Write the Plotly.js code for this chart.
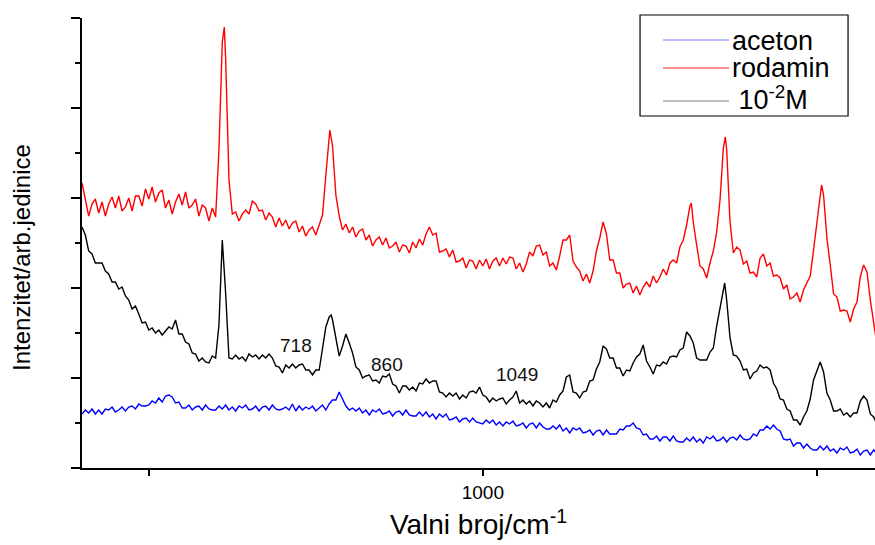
<!DOCTYPE html>
<html>
<head>
<meta charset="utf-8">
<script src="https://cdn.plot.ly/plotly-3.0.1.min.js"></script>
<style>
html,body{margin:0;padding:0;background:#fff;}
#chart{width:875px;height:545px;}
</style>
</head>
<body>
<div id="chart"></div>
<script>
// Wavenumber sampling of the spectra (cm^-1): 400, 405, ... 1590
const wnStart = 400;
const wnStep = 5;
const wnCount = 239;

// Series labels
const seriesNames = ["aceton", "rodamin", " 10<sup>-2</sup>M"];
const seriesColors = ["#0000ff", "#ff0000", "#000000"];
const legendLineColors = ["#7878ff", "#ff2020", "#808080"];

// aceton (blue) intensity, arb. units, one value per sample
const acetonI = [
54,58,55,59,54,58,54,59,58,61,56,58,61,57,61,62,59,64,62,62,
63,67,65,70,66,72,73,71,65,66,60,60,63,58,61,62,58,63,59,58,
58,62,59,63,58,61,57,62,60,63,58,59,62,57,61,62,58,63,59,58,
59,61,58,64,57,62,58,61,59,62,57,60,63,58,64,68,68,76,69,62,
58,60,57,60,55,58,53,58,56,59,54,55,57,52,56,57,53,58,53,52,
52,56,52,56,51,54,49,54,51,54,48,49,51,46,49,50,46,50,46,45,
44,48,45,48,43,46,42,46,44,47,42,43,45,40,44,45,40,45,41,39,
39,42,39,43,37,40,35,40,38,40,35,36,38,33,37,38,33,38,34,34,
34,39,38,42,42,45,40,39,33,34,29,29,32,27,31,31,27,32,27,26,
26,30,27,31,26,29,25,31,29,32,27,28,31,26,30,31,28,33,29,28,
29,34,32,38,38,42,39,43,39,37,29,28,29,22,25,25,20,24,20,18,
18,22,18,22,17,19,15,20,18,21,15,16,19,13,17,18,13,18,14
];

// rodamin (red) intensity, arb. units, one value per sample
const rodaminI = [
285,269,252,264,269,255,266,252,264,271,260,272,257,261,270,257,272,272,262,279,
269,281,266,275,278,260,268,254,266,274,263,276,260,263,269,252,263,260,247,260,
251,318,426,410,288,254,256,247,254,258,254,267,264,257,258,248,255,251,241,250,
242,248,239,245,247,236,242,232,238,241,233,242,253,293,333,322,273,252,238,244,
235,241,231,237,239,228,233,222,228,231,223,230,220,222,226,216,223,222,215,226,
220,229,223,234,241,233,235,216,217,219,211,218,206,207,210,200,208,207,199,208,
202,209,199,207,210,202,210,204,211,210,199,205,196,204,216,212,222,223,213,216,
202,205,198,212,228,228,233,207,201,197,187,194,185,197,217,230,246,234,208,208,
195,195,180,184,185,175,182,173,181,186,181,192,185,191,199,193,205,208,205,221,
228,243,262,246,223,202,199,190,205,217,236,268,320,318,246,215,221,218,204,207,
195,196,191,210,214,202,205,192,193,190,179,183,169,171,175,166,178,185,192,218,
246,278,273,230,203,174,171,157,158,157,146,159,166,191,203,196,168,143,123
];
// extra samples at the tops of the sharp rodamin bands
const rodaminPeakWn = [613, 771, 1312, 1363, 1507];
const rodaminPeakI  = [441, 338, 265, 331, 283];

// 10^-2 M (black) intensity, arb. units, one value per sample
const solutionI = [
241,233,217,214,205,205,205,197,194,186,186,179,181,172,168,159,162,154,145,146,
138,140,135,138,133,137,141,139,148,134,134,126,124,115,114,107,110,106,105,112,
110,143,228,175,110,109,113,109,111,107,114,111,113,109,113,110,114,110,102,101,
95,103,100,104,100,103,104,98,98,93,98,98,120,141,151,148,128,112,122,134,
125,115,101,98,90,92,93,87,88,85,92,91,94,84,82,75,82,82,78,81,
77,85,84,89,85,87,87,76,75,71,75,72,75,69,73,70,76,77,75,81,
73,71,66,70,67,69,70,64,68,71,77,65,68,64,67,62,67,65,61,65,
60,68,66,73,77,91,93,76,75,70,76,77,87,88,99,106,122,119,110,110,
100,100,92,98,97,105,111,114,123,107,101,94,103,102,106,104,111,112,111,118,
120,136,132,125,110,108,108,108,116,120,142,161,178,168,130,113,112,107,98,99,
89,95,97,103,100,101,98,85,79,69,68,59,57,48,48,43,51,57,69,88,
98,106,96,75,68,57,57,59,53,55,51,55,55,67,72,68,54,51,44
];
const solutionPeakWn = [773, 1362];
const solutionPeakI  = [153, 185];

// band labels
const bandLabels = ["718", "860", "1049"];
const bandLabelWn = [720, 856, 1051];
const bandLabelI  = [123, 104, 94];

// axis ticks
const xLabelVals = [1000];
const xUnlabelledVals = [500, 1500];
const yMajorTicks = [0, 90, 180, 270, 360, 450];
const yMinorTicks = [45, 135, 225, 315, 405];

// build the sampling grid
const wn = [];
for (let k = 0; k < wnCount; k++) wn.push(wnStart + wnStep * k);

function withExtras(xs, ys, ex, ey) {
  const pts = xs.map((x, i) => [x, ys[i]]);
  ex.forEach((x, i) => pts.push([x, ey[i]]));
  pts.sort((a, b) => a[0] - b[0]);
  return {x: pts.map(p => p[0]), y: pts.map(p => p[1])};
}

const red = withExtras(wn, rodaminI, rodaminPeakWn, rodaminPeakI);
const blk = withExtras(wn, solutionI, solutionPeakWn, solutionPeakI);

const FONT = "Liberation Sans, Arial, sans-serif";

const traces = [
  {x: wn, y: acetonI, name: seriesNames[0], type: "scatter", mode: "lines",
   line: {color: seriesColors[0], width: 1.4}},
  {x: red.x, y: red.y, name: seriesNames[1], type: "scatter", mode: "lines",
   line: {color: seriesColors[1], width: 1.4}},
  {x: blk.x, y: blk.y, name: seriesNames[2], type: "scatter", mode: "lines",
   line: {color: seriesColors[2], width: 1.4}}
];

const annotations = bandLabels.map((t, i) => ({
  x: bandLabelWn[i], y: bandLabelI[i], xref: "x", yref: "y",
  text: t, showarrow: false, xanchor: "center", yanchor: "middle",
  font: {family: FONT, size: 19, color: "#111"}
}));

// y axis title (placed like the reference, slightly below the axis centre)
annotations.push({x: -0.0757, y: 0.469, xref: "paper", yref: "paper",
  text: "Intenzitet/arb.jedinice", textangle: -90, showarrow: false,
  xanchor: "center", yanchor: "middle",
  font: {family: FONT, size: 24, color: "#000"}});

// legend box drawn in paper coordinates
const legBox = {x0: 0.7037, x1: 0.9660, y0: 0.7822, y1: 1.0067};
const legRowY = [0.9511, 0.8889, 0.8156];
const legTextY = [0.9500, 0.8900, 0.8230];
const legTextX = [0.8171, 0.8171, 0.8160];
const legLineX = [0.7327, 0.8159];

const shapes = [
  {type: "line", xref: "paper", yref: "paper", x0: -0.013, x1: 0, y0: 0, y1: 0,
   line: {color: "#000", width: 2}},
  {type: "rect", xref: "paper", yref: "paper", x0: legBox.x0, x1: legBox.x1,
   y0: legBox.y0, y1: legBox.y1, line: {color: "#000", width: 1.2}, fillcolor: "#fff", layer: "above"}
];
seriesNames.forEach((n, i) => {
  shapes.push({type: "line", xref: "paper", yref: "paper", x0: legLineX[0], x1: legLineX[1],
    y0: legRowY[i], y1: legRowY[i], line: {color: legendLineColors[i], width: 1.2}, layer: "above"});
  annotations.push({x: legTextX[i], y: legTextY[i], xref: "paper", yref: "paper",
    text: n, showarrow: false, xanchor: "left", yanchor: "middle",
    font: {family: FONT, size: 27, color: "#000"}});
});

const layout = {
  width: 875, height: 545,
  margin: {l: 82, r: 0, t: 18, b: 77, pad: 0},
  paper_bgcolor: "#ffffff", plot_bgcolor: "#ffffff",
  font: {family: FONT, color: "#000"},
  showlegend: false,
  xaxis: {
    range: [400, 1587], showgrid: false, zeroline: false,
    showline: true, linecolor: "#000", linewidth: 2,
    ticks: "outside", ticklen: 6, tickwidth: 2, tickcolor: "#000",
    tickvals: xLabelVals,
    tickfont: {family: FONT, size: 19, color: "#000"},
    minor: {ticks: "outside", tickvals: xUnlabelledVals, ticklen: 6, tickwidth: 2, tickcolor: "#000"},
    title: {text: "Valni broj/cm<sup>-1</sup>", font: {family: FONT, size: 28, color: "#000"}, standoff: 13}
  },
  yaxis: {
    range: [0, 450], showgrid: false, zeroline: false,
    showline: true, linecolor: "#000", linewidth: 2,
    ticks: "outside", ticklen: 9, tickwidth: 2, tickcolor: "#000",
    tickvals: yMajorTicks, showticklabels: false,
    minor: {ticks: "outside", tickvals: yMinorTicks, ticklen: 5, tickwidth: 2, tickcolor: "#000"}
  },
  annotations: annotations,
  shapes: shapes
};

Plotly.newPlot("chart", traces, layout, {displayModeBar: false, staticPlot: true});
</script>
</body>
</html>
